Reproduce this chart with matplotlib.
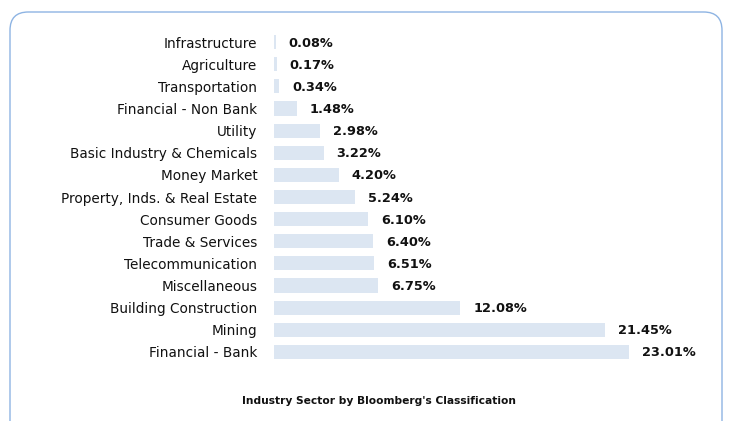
import matplotlib
matplotlib.use("Agg")
import matplotlib.pyplot as plt
from matplotlib.patches import FancyBboxPatch

sectors = [
    "Infrastructure", "Agriculture", "Transportation", "Financial - Non Bank",
    "Utility", "Basic Industry & Chemicals", "Money Market",
    "Property, Inds. & Real Estate", "Consumer Goods", "Trade & Services",
    "Telecommunication", "Miscellaneous", "Building Construction", "Mining",
    "Financial - Bank",
]
weights = [0.08, 0.17, 0.34, 1.48, 2.98, 3.22, 4.20, 5.24, 6.10, 6.40,
           6.51, 6.75, 12.08, 21.45, 23.01]
title = "Industry Sector by Bloomberg's Classification"

W, H = 732, 421
fig = plt.figure(figsize=(W / 100, H / 100), dpi=100)
fig.patch.set_facecolor("white")

# rounded frame, bottom runs off the picture
frame = FancyBboxPatch((10 / W, -20 / H), 712 / W, (H - 12 + 20) / H,
                       boxstyle="round,pad=0,rounding_size=0.025",
                       transform=fig.transFigure, fill=False,
                       edgecolor="#8eb4e3", linewidth=1.0,
                       mutation_aspect=W / H)
fig.patches.append(frame)

# axes in pixel terms: bars start at x=274, 15.43 px per percent
left, right = 274, 714
top, bottom = 31, 363
ax = fig.add_axes([left / W, 1 - bottom / H, (right - left) / W,
                   (bottom - top) / H])
ax.set_xlim(0, (right - left) / 15.43)
ax.set_ylim(len(sectors) - 0.5, -0.5)

y = range(len(sectors))
ax.barh(y, [max(v, 0.12) for v in weights], height=0.64, color="#dce6f2")
for i, v in enumerate(weights):
    ax.annotate(f"{v:.2f}%", (v, i), xytext=(13, -1),
                textcoords="offset pixels", va="center", ha="left",
                fontsize=9.3, fontweight="bold", color="#111111",
                family="DejaVu Sans")

ax.set_yticks(list(y))
ax.set_yticklabels(sectors, fontsize=9.8, color="#111111", family="DejaVu Sans")
ax.tick_params(axis="y", length=0, pad=12)
ax.set_xticks([])
for s in ax.spines.values():
    s.set_visible(False)
ax.patch.set_alpha(0)

fig.text(379 / W, 1 - 401 / H, title, ha="center", va="center",
         fontsize=7.7, fontweight="bold", color="#111111", family="DejaVu Sans")

fig.savefig("out.png", dpi=100)
